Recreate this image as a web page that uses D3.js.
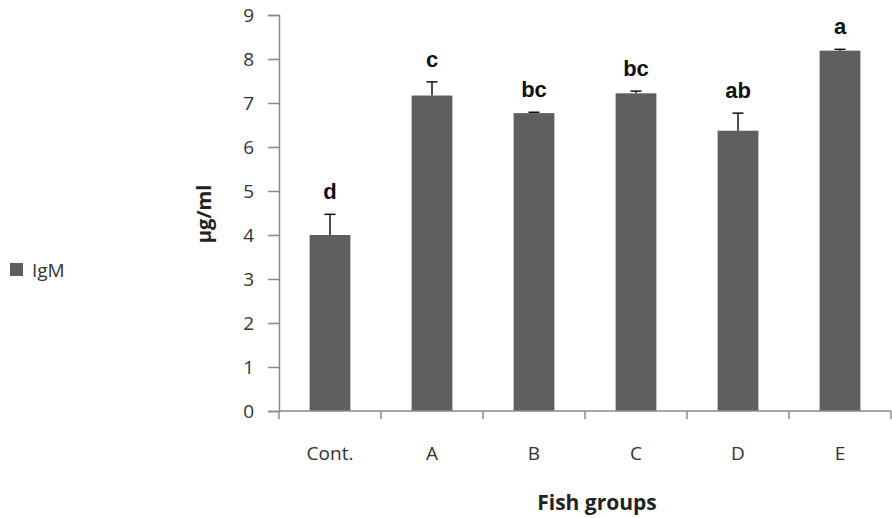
<!DOCTYPE html>
<html><head><meta charset="utf-8">
<script src="https://cdn.jsdelivr.net/npm/d3@7"></script>
<style>body{margin:0;background:#fff;} svg{display:block;}</style>
</head><body>
<script>
const categories = ["Cont.", "A", "B", "C", "D", "E"];
const values = [4.0, 7.17, 6.77, 7.22, 6.37, 8.19];
const errors = [0.47, 0.31, 0.02, 0.05, 0.40, 0.03];
const letters = ["d", "c", "bc", "bc", "ab", "a"];
const yTicks = [0, 1, 2, 3, 4, 5, 6, 7, 8, 9];
const seriesName = "IgM";

const W = 892, H = 518;
const m = {left: 279, right: 1, top: 15, bottom: 107};
const svg = d3.select("body").append("svg").attr("width", W).attr("height", H);

const x = d3.scaleBand().domain(categories).range([m.left, W - m.right]).paddingInner(0.6).paddingOuter(0.3);
const xb = d3.scaleBand().domain(categories).range([m.left, W - m.right]);
const y = d3.scaleLinear().domain([0, 9]).range([H - m.bottom, m.top]);

const barColor = "#5f5f5f", axisColor = "#8a8a8a", textColor = "#333";
const font = "'Open Sans', 'Liberation Sans', sans-serif";

// Y axis
const ya = svg.append("g").attr("transform", `translate(${m.left},0)`)
  .call(d3.axisLeft(y).tickValues(yTicks).tickSize(11).tickPadding(14).tickFormat(d3.format("d")));
ya.select(".domain").attr("stroke", axisColor).attr("stroke-width", 1.5);
ya.selectAll(".tick line").attr("stroke", axisColor).attr("stroke-width", 1.5);
ya.selectAll("text").attr("font-family", font).attr("font-size", 19).attr("fill", textColor);

// bars
svg.append("g").selectAll("rect").data(categories).join("rect")
  .attr("x", d => x(d)).attr("width", x.bandwidth())
  .attr("y", (d, i) => y(values[i])).attr("height", (d, i) => y(0) - y(values[i]))
  .attr("fill", barColor);

// X axis line and tick marks at band boundaries
svg.append("line").attr("x1", m.left).attr("x2", W - m.right).attr("y1", y(0)).attr("y2", y(0))
  .attr("stroke", axisColor).attr("stroke-width", 1.5);
const bounds = categories.map(c => xb(c)).concat([W - m.right]);
svg.append("g").selectAll("line").data(bounds).join("line")
  .attr("x1", d => d).attr("x2", d => d).attr("y1", y(0)).attr("y2", y(0) + 8)
  .attr("stroke", axisColor).attr("stroke-width", 1.5);

// x labels
const xa = svg.append("g").attr("transform", `translate(0,${y(0)})`)
  .call(d3.axisBottom(xb).tickSize(0).tickPadding(36));
xa.select(".domain").remove();
xa.selectAll("text").attr("font-family", font).attr("font-size", 19).attr("fill", textColor);

// error bars
const eg = svg.append("g").attr("stroke", "#111").attr("stroke-width", 1.5);
categories.forEach((c, i) => {
  const cx = x(c) + x.bandwidth() / 2;
  eg.append("line").attr("x1", cx).attr("x2", cx).attr("y1", y(values[i])).attr("y2", y(values[i] + errors[i]));
  eg.append("line").attr("x1", cx - 5.5).attr("x2", cx + 5.5).attr("y1", y(values[i] + errors[i])).attr("y2", y(values[i] + errors[i]));
});

// significance letters
svg.append("g").selectAll("text").data(categories).join("text")
  .attr("x", d => x(d) + x.bandwidth() / 2)
  .attr("y", (d, i) => y(values[i] + errors[i]) - 15)
  .attr("text-anchor", "middle")
  .attr("font-family", "'Liberation Sans', Arial, sans-serif").attr("font-weight", "bold")
  .attr("font-size", 22).attr("fill", "#111")
  .text((d, i) => letters[i]);

// axis titles
svg.append("text").attr("x", 597).attr("y", 510).attr("text-anchor", "middle")
  .attr("font-family", font).attr("font-weight", "bold").attr("font-size", 21).attr("fill", "#222")
  .text("Fish groups");
svg.append("text").attr("transform", "translate(211,214) rotate(-90)").attr("text-anchor", "middle")
  .attr("font-family", font).attr("font-weight", "bold").attr("font-size", 20).attr("fill", "#222")
  .text("μg/ml");

// legend
svg.append("rect").attr("x", 10).attr("y", 263).attr("width", 13).attr("height", 13).attr("fill", barColor);
svg.append("text").attr("x", 32).attr("y", 277).attr("font-family", font).attr("font-size", 19).attr("fill", textColor).text(seriesName);
</script>
</body></html>
